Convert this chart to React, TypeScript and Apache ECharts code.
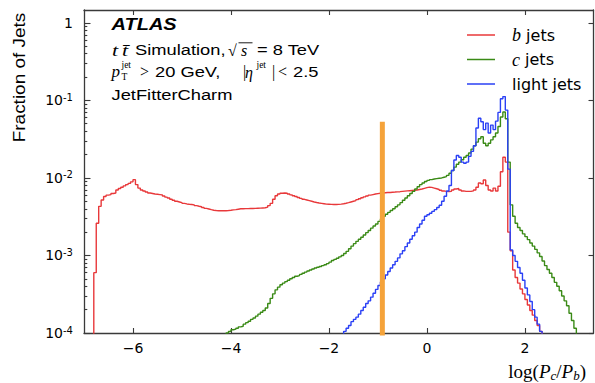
import React, { useEffect, useRef } from 'react';
import * as echarts from 'echarts';

// ---- data (fraction of jets per bin of log(Pc/Pb), bin width 0.05) ----
const BIN_WIDTH = 0.05;

const B_START = -6.8;
const bJets = [
  6e-4, 2.6e-3, 4.3e-3, 5.2e-3, 5.75e-3, 6.0e-3, 6.1e-3, 6.3e-3, 6.4e-3, 7.0e-3,
  7.3e-3, 7.6e-3, 7.9e-3, 8.2e-3, 8.5e-3, 8.9e-3, 9.5e-3, 8.2e-3, 7.4e-3, 7.0e-3,
  6.8e-3, 6.6e-3, 6.4e-3, 6.3e-3, 6.2e-3, 6.15e-3, 6.1e-3, 6.05e-3, 5.85e-3, 5.65e-3,
  5.5e-3, 5.3e-3, 5.15e-3, 5.0e-3, 4.9e-3, 4.8e-3, 4.7e-3, 4.62e-3, 4.58e-3, 4.55e-3,
  4.5e-3, 4.4e-3, 4.32e-3, 4.25e-3, 4.15e-3, 4.05e-3, 3.98e-3, 3.9e-3, 3.83e-3, 3.8e-3,
  3.78e-3, 3.77e-3, 3.77e-3, 3.78e-3, 3.8e-3, 3.83e-3, 3.87e-3, 3.9e-3, 3.95e-3, 4.0e-3,
  4.0e-3, 4.02e-3, 4.02e-3, 4.03e-3, 4.04e-3, 4.05e-3, 4.07e-3, 4.08e-3, 4.1e-3, 4.12e-3,
  4.2e-3, 4.4e-3, 4.7e-3, 5.3e-3, 5.9e-3, 6.2e-3, 6.35e-3, 6.4e-3, 6.35e-3, 6.2e-3,
  6.05e-3, 5.9e-3, 5.75e-3, 5.6e-3, 5.45e-3, 5.3e-3, 5.2e-3, 5.1e-3, 5.0e-3, 4.9e-3,
  4.82e-3, 4.75e-3, 4.7e-3, 4.65e-3, 4.6e-3, 4.58e-3, 4.56e-3, 4.55e-3, 4.55e-3, 4.56e-3,
  4.6e-3, 4.65e-3, 4.72e-3, 4.8e-3, 4.9e-3, 5.0e-3, 5.1e-3, 5.25e-3, 5.4e-3, 5.55e-3,
  5.7e-3, 5.85e-3, 6.0e-3, 6.1e-3, 6.2e-3, 6.28e-3, 6.35e-3, 6.4e-3, 6.45e-3, 6.48e-3,
  6.5e-3, 6.55e-3, 6.58e-3, 6.62e-3, 6.65e-3, 6.7e-3, 6.75e-3, 6.8e-3, 6.85e-3, 6.9e-3,
  6.95e-3, 7.0e-3, 7.1e-3, 7.2e-3, 7.35e-3, 7.5e-3, 7.6e-3, 7.55e-3, 7.4e-3, 7.25e-3,
  7.1e-3, 6.95e-3, 6.8e-3, 6.7e-3, 6.65e-3, 6.7e-3, 7.0e-3, 7.2e-3, 7.3e-3, 7.0e-3,
  6.8e-3, 6.7e-3, 6.7e-3, 6.7e-3, 6.8e-3, 7.0e-3, 7.6e-3, 8.6e-3, 8.4e-3, 9.4e-3,
  8.0e-3, 7.0e-3, 6.8e-3, 7.4e-3, 6.8e-3, 7.8e-3, 1.2e-2, 1.85e-2, 1.6e-2, 2.0e-3,
  1.15e-3, 6.5e-4, 5.2e-4, 4.4e-4, 3.7e-4, 3.2e-4, 2.7e-4, 2.3e-4, 1.95e-4, 1.7e-4,
  1.45e-4, 1.25e-4, 1.05e-4,
];

const C_START = -4.1;
const cJets = [
  1.0e-4, 1.05e-4, 1.1e-4, 1.12e-4, 1.15e-4, 1.2e-4, 1.22e-4, 1.3e-4, 1.36e-4, 1.42e-4,
  1.5e-4, 1.56e-4, 1.65e-4, 1.75e-4, 1.85e-4, 1.95e-4, 2.1e-4, 2.4e-4, 2.8e-4, 3.2e-4,
  3.6e-4, 3.9e-4, 4.2e-4, 4.4e-4, 4.6e-4, 4.8e-4, 5.0e-4, 5.2e-4, 5.4e-4, 5.5e-4,
  5.7e-4, 5.9e-4, 6.1e-4, 6.3e-4, 6.5e-4, 6.7e-4, 6.9e-4, 7.05e-4, 7.2e-4, 7.4e-4,
  7.6e-4, 7.85e-4, 8.2e-4, 8.6e-4, 8.9e-4, 9.2e-4, 9.6e-4, 1.0e-3, 1.06e-3, 1.13e-3,
  1.22e-3, 1.32e-3, 1.42e-3, 1.52e-3, 1.62e-3, 1.72e-3, 1.84e-3, 1.97e-3, 2.1e-3, 2.25e-3,
  2.4e-3, 2.55e-3, 2.75e-3, 2.95e-3, 3.2e-3, 3.4e-3, 3.6e-3, 3.8e-3, 4.0e-3, 4.25e-3,
  4.5e-3, 4.8e-3, 5.15e-3, 5.5e-3, 5.9e-3, 6.3e-3, 6.7e-3, 7.2e-3, 7.7e-3, 8.2e-3,
  8.6e-3, 9.0e-3, 9.3e-3, 9.5e-3, 9.7e-3, 9.8e-3, 9.9e-3, 1.0e-2, 1.02e-2, 1.04e-2,
  1.08e-2, 1.15e-2, 1.25e-2, 1.38e-2, 1.5e-2, 1.6e-2, 1.72e-2, 1.85e-2, 1.95e-2, 2.1e-2,
  2.35e-2, 2.6e-2, 2.9e-2, 3.2e-2, 3.4e-2, 2.8e-2, 2.6e-2, 2.8e-2, 3.1e-2, 3.4e-2,
  3.8e-2, 4.6e-2, 6.1e-2, 7.1e-2, 5.8e-2, 1.6e-2, 4.5e-3, 3.2e-3, 2.6e-3, 2.3e-3,
  2.1e-3, 1.9e-3, 1.75e-3, 1.6e-3, 1.45e-3, 1.32e-3, 1.2e-3, 1.08e-3, 9.7e-4, 8.5e-4,
  7.4e-4, 6.6e-4, 5.9e-4, 5.2e-4, 4.5e-4, 4.0e-4, 3.5e-4, 3.0e-4, 2.6e-4, 2.25e-4,
  1.8e-4, 1.45e-4, 1.15e-4,
];

const L_START = -1.7;
const lightJets = [
  1.05e-4, 1.15e-4, 1.25e-4, 1.4e-4, 1.5e-4, 1.6e-4, 1.75e-4, 1.95e-4, 2.15e-4, 2.4e-4,
  2.6e-4, 2.9e-4, 3.25e-4, 3.65e-4, 4.1e-4, 4.55e-4, 5.0e-4, 5.6e-4, 6.2e-4, 6.9e-4,
  7.6e-4, 8.4e-4, 9.3e-4, 1.05e-3, 1.15e-3, 1.3e-3, 1.45e-3, 1.62e-3, 1.8e-3, 2.0e-3,
  2.3e-3, 2.55e-3, 2.85e-3, 3.2e-3, 3.35e-3, 3.5e-3, 3.7e-3, 3.9e-3, 4.15e-3, 4.45e-3,
  5.0e-3, 5.8e-3, 6.8e-3, 8.0e-3, 1.25e-2, 1.7e-2, 1.95e-2, 1.85e-2, 1.6e-2, 1.55e-2,
  1.6e-2, 1.9e-2, 2.2e-2, 2.6e-2, 4.4e-2, 5.9e-2, 5.3e-2, 4.2e-2, 5.1e-2, 3.8e-2,
  4.8e-2, 4.2e-2, 5.4e-2, 7.0e-2, 1.05e-1, 1.12e-1, 7.5e-2, 1.3e-2, 1.18e-3, 1.0e-3,
  8.4e-4, 7.0e-4, 5.9e-4, 4.8e-4, 3.8e-4, 3.1e-4, 2.55e-4, 2.0e-4, 1.6e-4, 1.3e-4,
  1.05e-4,
];

const CUT_X = -0.91;
const CUT_TOP = 0.053;

const X_TICKS = [-6, -4, -2, 0, 2];
const Y_DECADES = [1e-4, 1e-3, 1e-2, 1e-1, 1];

// ---- styling ----
const RED = '#e8383a';
const GREEN = '#3a8a16';
const BLUE = '#2a40f5';
const ORANGE = '#f5a33a';
const AXIS = '#3a3a3a';
const SANS = 'Liberation Sans';
const SERIF = 'Liberation Serif';
const SX = 1.22;
const FLOOR = 1e-6;
const Y_MIN = 1e-4;
const Y_MAX = 1.466;

function steps(start: number, values: number[]): [number, number][] {
  const pts: [number, number][] = [[start, FLOOR]];
  values.forEach((v, i) => pts.push([+(start + i * BIN_WIDTH).toFixed(3), v]));
  pts.push([+(start + values.length * BIN_WIDTH).toFixed(3), FLOOR]);
  return pts;
}

function minorTicks(): number[] {
  const out: number[] = [];
  for (let n = -4; n <= 0; n++) {
    for (let k = 2; k <= 9; k++) {
      const v = +(k * Math.pow(10, n)).toPrecision(3);
      if (v < Y_MAX) out.push(v);
    }
  }
  return out;
}

function txt(x: number, y: number, text: string, o: any = {}, scaleX = 1): any {
  return {
    type: 'text',
    x,
    y,
    scaleX,
    silent: true,
    style: {
      text,
      fill: '#000',
      fontFamily: o.fontFamily || SANS,
      fontSize: o.fontSize || 15,
      fontStyle: o.fontStyle || 'normal',
      fontWeight: o.fontWeight || 'normal',
      align: 'left',
      verticalAlign: 'middle',
      textAlign: 'left',
      textVerticalAlign: 'middle',
    },
  };
}

export default function App() {
  const ref = useRef<HTMLDivElement>(null);

  useEffect(() => {
    if (!ref.current) return;
    const chart = echarts.init(ref.current, undefined, { renderer: 'svg' });

    const axisLine = { show: true, onZero: false, lineStyle: { color: AXIS, width: 1.3 } };
    const tickStyle = { color: AXIS, width: 1.1 };

    const mkSeries = (name: string, start: number, vals: number[], color: string, z: number) => ({
      name,
      type: 'line',
      step: 'end',
      data: steps(start, vals),
      xAxisIndex: 0,
      yAxisIndex: 0,
      symbol: 'none',
      showSymbol: false,
      clip: true,
      z,
      lineStyle: { color, width: 1.4 },
      itemStyle: { color },
    });

    const italicSerif = { fontFamily: SERIF, fontStyle: 'italic', fontSize: 16 };
    const serif = { fontFamily: SERIF, fontSize: 16 };
    const script = { fontFamily: SERIF, fontSize: 9.5 };

    const option: any = {
      animation: false,
      backgroundColor: '#ffffff',
      textStyle: { fontFamily: 'DejaVu Sans' },
      grid: { left: 84, right: 1.5, top: 10, bottom: 50, containLabel: false },
      legend: {
        data: ['b jets', 'c jets', 'light jets'],
        orient: 'vertical',
        left: 462,
        top: 21,
        icon: 'rect',
        itemWidth: 28,
        itemHeight: 1.5,
        itemGap: 6.5,
        selectedMode: false,
        formatter: (name: string) =>
          name === 'b jets' ? '{i|b} jets' : name === 'c jets' ? '{i|c} jets' : name,
        textStyle: {
          fontFamily: 'DejaVu Sans',
          fontSize: 16,
          lineHeight: 18,
          color: '#000',
          padding: [0, 0, 0, 12],
          rich: {
            i: { fontFamily: SERIF, fontStyle: 'italic', fontSize: 18, lineHeight: 18 },
          },
        },
      },
      xAxis: [
        {
          type: 'value',
          position: 'bottom',
          min: -7,
          max: 3.4,
          axisLine,
          splitLine: { show: false },
          axisTick: { show: true, inside: true, length: 5, customValues: X_TICKS, lineStyle: tickStyle },
          axisLabel: {
            show: true,
            customValues: X_TICKS,
            margin: 8,
            fontSize: 14,
            fontFamily: 'DejaVu Sans',
            color: '#000',
            formatter: (v: number) => (v < 0 ? '\u2212' + Math.abs(v) : String(v)),
          },
        },
        {
          type: 'value',
          position: 'top',
          min: -7,
          max: 3.4,
          axisLine,
          splitLine: { show: false },
          axisTick: { show: true, inside: true, length: 5, customValues: X_TICKS, lineStyle: tickStyle },
          axisLabel: { show: false },
        },
      ],
      yAxis: [
        {
          type: 'log',
          logBase: 10,
          position: 'left',
          min: Y_MIN,
          max: Y_MAX,
          axisLine,
          splitLine: { show: false },
          minorTick: { show: false },
          axisTick: { show: true, inside: true, length: 6.5, customValues: Y_DECADES, lineStyle: tickStyle },
          axisLabel: {
            show: true,
            customValues: Y_DECADES,
            margin: 11,
            fontSize: 14,
            lineHeight: 16,
            fontFamily: 'DejaVu Sans',
            color: '#000',
            formatter: (v: number) => {
              const n = Math.round(Math.log10(v));
              return n === 0 ? '1' : '10{s|' + n + '}';
            },
            rich: {
              s: { fontSize: 10, lineHeight: 9, verticalAlign: 'top', fontFamily: 'DejaVu Sans', color: '#000' },
            },
          },
        },
        {
          type: 'log',
          logBase: 10,
          position: 'right',
          min: Y_MIN,
          max: Y_MAX,
          axisLine,
          splitLine: { show: false },
          axisTick: { show: true, inside: true, length: 5, customValues: Y_DECADES, lineStyle: tickStyle },
          axisLabel: { show: false },
        },
        {
          type: 'log',
          logBase: 10,
          position: 'left',
          min: Y_MIN,
          max: Y_MAX,
          axisLine: { show: false, onZero: false },
          splitLine: { show: false },
          axisTick: { show: true, inside: true, length: 3.3, customValues: minorTicks(), lineStyle: tickStyle },
          axisLabel: { show: false },
        },
      ],
      series: [
        mkSeries('b jets', B_START, bJets, RED, 2),
        mkSeries('c jets', C_START, cJets, GREEN, 3),
        mkSeries('light jets', L_START, lightJets, BLUE, 4),
        {
          name: 'cut',
          type: 'line',
          data: [
            [CUT_X, FLOOR],
            [CUT_X, CUT_TOP],
          ],
          xAxisIndex: 0,
          yAxisIndex: 0,
          symbol: 'none',
          clip: true,
          z: 6,
          lineStyle: { color: ORANGE, width: 5, cap: 'butt' },
          itemStyle: { color: ORANGE },
        },
      ],
      graphic: [
        // y axis title
        {
          type: 'text',
          x: 19,
          y: 77.5,
          rotation: Math.PI / 2,
          scaleX: 1.15,
          silent: true,
          style: {
            text: 'Fraction of Jets',
            fill: '#000',
            fontFamily: SANS,
            fontSize: 16.5,
            align: 'center',
            verticalAlign: 'middle',
            textAlign: 'center',
            textVerticalAlign: 'middle',
          },
        },
        // x axis title
        {
          type: 'text',
          x: 586,
          y: 371,
          silent: true,
          style: {
            text: '{r|log(}{i|P}{s|c}{r|/}{i|P}{s|b}{r|)}',
            fill: '#000',
            align: 'right',
            verticalAlign: 'middle',
            textAlign: 'right',
            textVerticalAlign: 'middle',
            rich: {
              r: { fontFamily: SERIF, fontSize: 19, lineHeight: 22, fill: '#000' },
              i: { fontFamily: SERIF, fontStyle: 'italic', fontSize: 19, lineHeight: 22, fill: '#000' },
              s: { fontFamily: SERIF, fontStyle: 'italic', fontSize: 13, lineHeight: 12, verticalAlign: 'bottom', fill: '#000' },
            },
          },
        },
        // annotation block
        txt(111.5, 24.2, 'ATLAS', { fontWeight: 'bold', fontStyle: 'italic', fontSize: 16 }, 1.25),
        txt(112, 50, 't', { ...italicSerif, fontSize: 17 }, 1.3),
        txt(122, 50, 't\u0304', { ...italicSerif, fontSize: 17 }, 1.3),
        txt(135, 50, 'Simulation,', { fontSize: 15 }, SX),
        txt(228, 50.5, '\u221A', serif, 1),
        {
          type: 'line',
          silent: true,
          shape: { x1: 238.5, y1: 42.8, x2: 252.5, y2: 42.8 },
          style: { stroke: '#000', lineWidth: 0.9 },
        },
        txt(241, 50, 's', italicSerif, 1),
        txt(257, 50, '= 8 TeV', { fontSize: 15 }, SX),
        txt(111.5, 71, 'p', { ...italicSerif, fontSize: 17 }, 1),
        txt(121.5, 65.3, 'jet', script, 1),
        txt(121.5, 77, 'T', script, 1),
        txt(140, 71.7, '>', serif, 1),
        txt(155, 71.7, '20 GeV,', { fontSize: 15 }, SX),
        txt(243, 71.7, '|', serif, 1),
        txt(245, 72.5, '\u03B7', italicSerif, 1),
        txt(256.5, 65.3, 'jet', script, 1),
        txt(272, 71.7, '|', serif, 1),
        txt(278, 71.7, '<', serif, 1),
        txt(293, 71.7, '2.5', { fontSize: 15 }, SX),
        txt(111.5, 95, 'JetFitterCharm', { fontSize: 15 }, SX),
      ],
    };

    chart.setOption(option);
    return () => {
      chart.dispose();
    };
  }, []);

  return (
    <div
      ref={ref}
      style={{ position: 'fixed', left: 0, top: 0, width: 595, height: 383, background: '#fff' }}
    />
  );
}
